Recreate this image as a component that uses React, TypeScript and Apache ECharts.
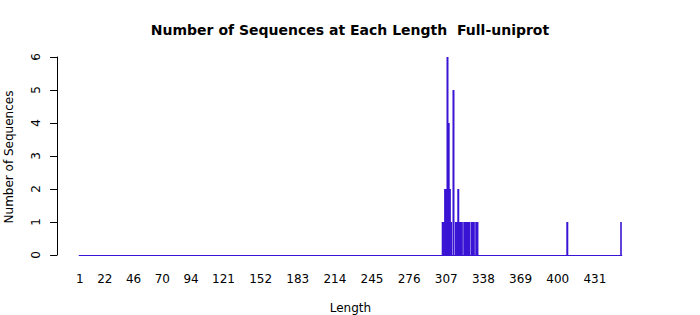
import React, { useEffect, useRef } from "react";
import * as echarts from "echarts";

const MAX_LENGTH = 453;
const lengths = [304, 305, 306, 307, 308, 309, 310, 311, 313, 315, 316, 317, 318, 319, 320, 322, 323, 324, 325, 326, 328, 329, 330, 332, 333, 408, 453];
const counts = [1, 1, 2, 2, 6, 4, 2, 1, 5, 1, 1, 2, 1, 1, 1, 1, 1, 1, 1, 1, 1, 1, 1, 1, 1, 1, 1];
const xTickLabels = ["1", "22", "46", "70", "94", "121", "152", "183", "214", "245", "276", "307", "338", "369", "400", "431"];
const yTicks = [0, 1, 2, 3, 4, 5, 6];

const BLUE = "#3a14d4";
const FONT = "DejaVu Sans";

export default function App() {
  const ref = useRef<HTMLDivElement>(null);
  useEffect(() => {
    document.body.style.margin = "0";
    if (!ref.current) return;
    const chart = echarts.init(ref.current, null, { renderer: "svg" });
    const categories: string[] = [];
    for (let i = 1; i <= MAX_LENGTH; i++) categories.push(String(i));
    const lookup: Record<string, number> = {};
    lengths.forEach((l, i) => (lookup[String(l)] = counts[i]));
    const values = categories.map((c) => lookup[c] ?? 0);
    chart.setOption({
      animation: false,
      title: {
        text: "Number of Sequences at Each Length  Full-uniprot",
        left: "center",
        top: 18,
        textStyle: { fontFamily: FONT, fontSize: 14, fontWeight: "bold", color: "#000" },
      },
      grid: { left: 79.1, right: 78.2, top: 57, bottom: 60, outerBoundsMode: "none", containLabel: false },
      xAxis: {
        type: "category",
        data: categories,
        name: "Length",
        nameLocation: "middle",
        nameGap: 47,
        nameTextStyle: { fontFamily: FONT, fontSize: 12, color: "#000" },
        axisLine: { show: true, lineStyle: { color: BLUE, width: 1 } },
        axisTick: { show: false },
        axisLabel: {
          interval: (_i: number, v: string) => xTickLabels.includes(v),
          fontFamily: FONT,
          fontSize: 12,
          color: "#000",
          margin: 18,
          hideOverlap: false,
        },
        splitLine: { show: false },
      },
      yAxis: {
        type: "value",
        min: yTicks[0],
        max: yTicks[yTicks.length - 1],
        interval: 1,
        offset: 22,
        axisLine: { show: true, lineStyle: { color: "#000", width: 1 } },
        axisTick: { show: true, length: 7, lineStyle: { color: "#000" } },
        axisLabel: {
          rotate: 90,
          fontFamily: FONT,
          fontSize: 12,
          color: "#000",
          margin: 15,
        },
        splitLine: { show: false },
      },
      graphic: [
        {
          type: "text",
          x: 9,
          y: 157,
          rotation: Math.PI / 2,
          style: {
            text: "Number of Sequences",
            fontFamily: FONT,
            fontSize: 12,
            fill: "#000",
            textAlign: "center",
            textVerticalAlign: "middle",
          },
        },
      ],
      series: [
        {
          type: "bar",
          data: values,
          barWidth: 2,
          barGap: "-100%",
          itemStyle: { color: BLUE },
        },
      ],
    });
    return () => chart.dispose();
  }, []);
  return <div ref={ref} style={{ width: 700, height: 315 }} />;
}
